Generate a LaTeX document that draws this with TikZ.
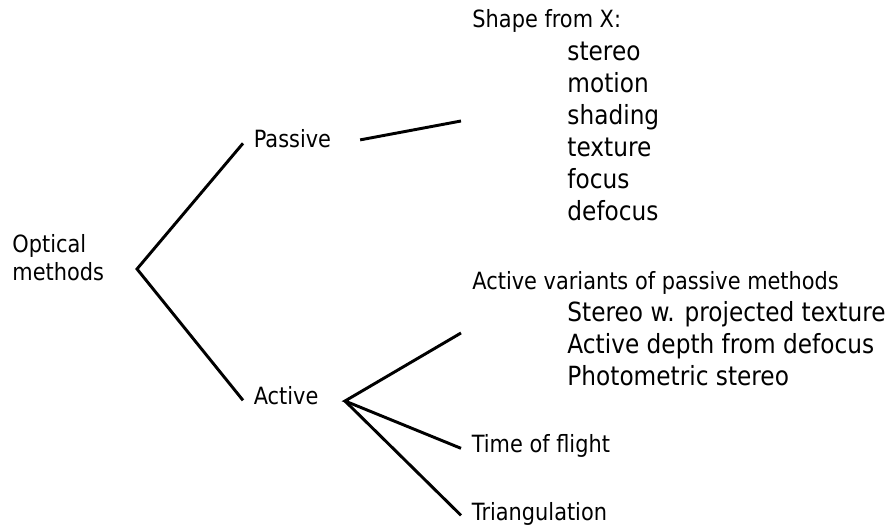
\documentclass[tikz,border=0pt]{standalone}
\usepackage{fontspec}
\setmainfont{DejaVu Sans}[FakeStretch=0.88]
\usetikzlibrary{positioning}

\begin{document}
\begin{tikzpicture}[x=0.75pt, y=-0.75pt, line width=2.2pt]
  \tikzstyle{small} = [font=\fontsize{17.8}{21}\selectfont]
  \tikzstyle{big} = [font=\fontsize{19.8}{24}\selectfont]
  \tikzstyle{txt} = [small, inner sep=0pt, anchor=base west, align=left]
  \tikzstyle{lbl} = [small, inner xsep=7pt, inner ysep=0pt, text height=12pt, text depth=5pt, anchor=base west]
  \tikzstyle{tmp} = [coordinate]
  \useasboundingbox (0,0) rectangle (894,531);

  \node [txt] (optical) at (11,281) {Optical\\methods};
  \node [lbl] (passive) at (243,148) {Passive};
  \node [lbl] (active) at (243,405) {Active};

  \node [txt] (shapex) at (471,28) {Shape from X:};
  \node [txt, big] (shapelist) at (566,221) {stereo\\motion\\shading\\texture\\focus\\defocus};
  \node [txt] (variants) at (471,290) {Active variants of passive methods};
  \node [txt, big] (variantlist) at (566,386) {Stereo w. projected texture\\Active depth from defocus\\Photometric stereo};
  \node [lbl] (tof) at (461,453) {Time of flight};
  \node [lbl] (triang) at (461,520) {Triangulation};

  \node [tmp] (optApex) at (137,269) {};
  \node [tmp] (shapeEnd) at (461,121) {};
  \node [tmp] (actApex) at (345,401) {};
  \node [tmp] (variantsEnd) at (461,333) {};

  \draw (passive.west) -- (optApex) -- (active.west);
  \draw [shorten <=14pt] (passive.east) -- (shapeEnd);
  \draw (variantsEnd) -- (actApex) -- (tof.west);
  \draw (actApex) -- (triang.west);
\end{tikzpicture}
\end{document}
